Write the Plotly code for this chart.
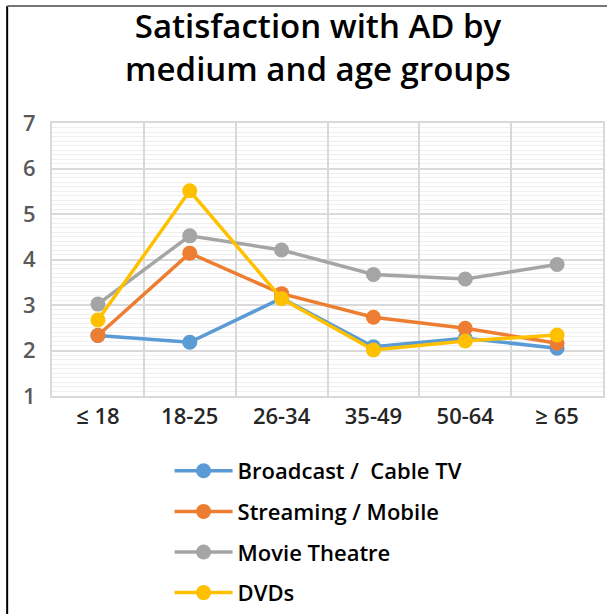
import plotly.graph_objects as go

categories = ["≤ 18", "18-25", "26-34", "35-49", "50-64", "≥ 65"]
broadcast = [2.33, 2.18, 3.15, 2.08, 2.27, 2.05]
streaming = [2.33, 4.14, 3.25, 2.73, 2.49, 2.16]
theatre = [3.02, 4.52, 4.21, 3.67, 3.57, 3.89]
dvds = [2.67, 5.51, 3.14, 2.01, 2.21, 2.34]

series_names = ["Broadcast /  Cable TV", "Streaming / Mobile", "Movie Theatre", "DVDs"]
series_values = [broadcast, streaming, theatre, dvds]
colors = ["#5b9bd5", "#ed7d31", "#a5a5a5", "#ffc000"]

FONT = "Open Sans"

fig = go.Figure()
for i, (name, vals, col) in enumerate(zip(series_names, series_values, colors)):
    fig.add_trace(go.Scatter(
        x=categories, y=vals, name=name, mode="lines+markers",
        line=dict(color=col, width=3.5),
        marker=dict(color=col, size=15),
        legendgroup=str(i),
    ))

W, H = 609, 628
L, R, T, B = 52, 4, 123, 232
pw, ph = W - L - R, H - T - B

def px_x(x):
    return (x - L) / pw

def px_y(y):
    return (H - B - y) / ph

fig.update_layout(
    width=W, height=H,
    margin=dict(l=L, r=R, t=T, b=B, pad=0),
    paper_bgcolor="white", plot_bgcolor="white",
    title=dict(
        text="Satisfaction with AD by<br>medium and age groups",
        x=318 / W, xanchor="center",
        y=1 - 38 / H, yanchor="top",
        font=dict(family=FONT, size=33, color="#000000", weight=600),
    ),
    font=dict(family=FONT),
    showlegend=True,
    legend=dict(
        x=px_x(170), xanchor="left", y=px_y(450), yanchor="top",
        font=dict(family=FONT, size=22, color="#000000", weight=600),
        tracegroupgap=9, itemwidth=58,
        bgcolor="rgba(0,0,0,0)",
    ),
    xaxis=dict(
        type="category", tickson="boundaries",
        showgrid=True, gridcolor="#d9d9d9", gridwidth=2,
        showline=True, linecolor="#d9d9d9", linewidth=2, mirror=True,
        ticks="", ticklen=0,
        tickfont=dict(family=FONT, size=22, color="#262626", weight=600),
        range=[-0.5, 5.5],
    ),
    yaxis=dict(
        range=[1, 7], dtick=1, tick0=1,
        showgrid=True, gridcolor="#d9d9d9", gridwidth=2,
        showline=True, linecolor="#d9d9d9", linewidth=2, mirror=True,
        zeroline=False,
        minor=dict(dtick=0.1, showgrid=True, gridcolor="#efefef", gridwidth=1),
        tickfont=dict(family=FONT, size=22, color="#595959", weight=600),
        ticks="", ticklabelstandoff=10,
    ),
    shapes=[
        dict(type="line", xref="paper", yref="paper",
             x0=px_x(7), x1=px_x(7), y0=px_y(6), y1=px_y(H),
             line=dict(color="#000000", width=2)),
        dict(type="line", xref="paper", yref="paper",
             x0=px_x(7), x1=px_x(609), y0=px_y(6), y1=px_y(6),
             line=dict(color="#767676", width=2)),
    ],
)

fig.write_html(
    "out.html", config={"displayModeBar": False},
    post_script=(
        "document.body.style.margin='0px';"
        "document.body.style.overflow='hidden';"
        "document.documentElement.style.overflow='hidden';"
    ),
)
